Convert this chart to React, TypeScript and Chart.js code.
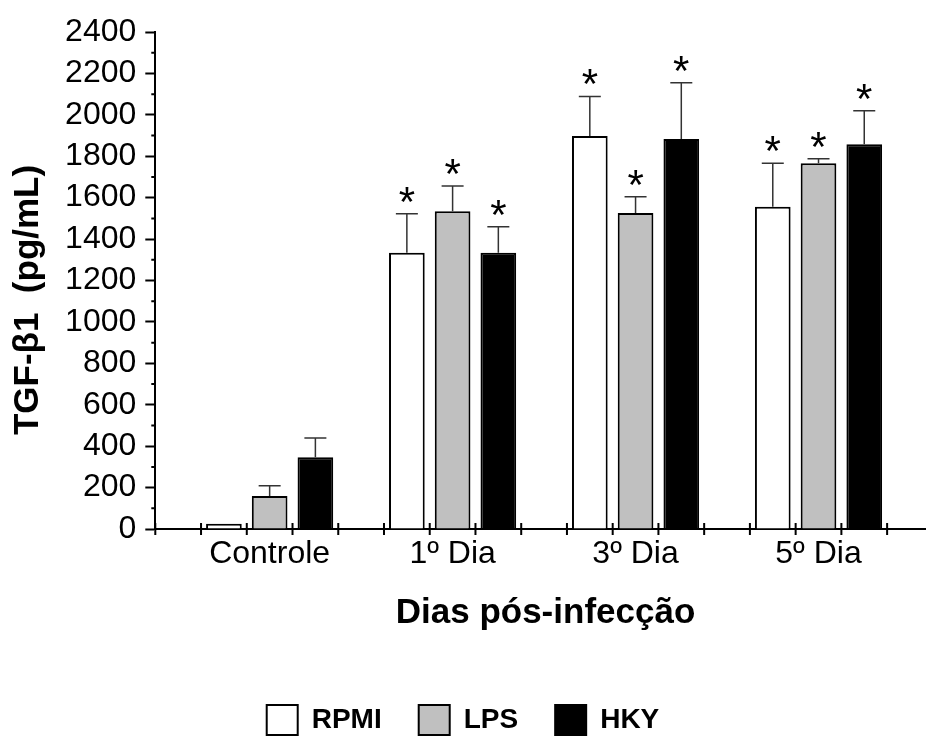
import React, { useEffect, useRef } from 'react';
import { Chart, registerables } from 'chart.js';

Chart.register(...registerables);

// ---- data ----
const categories = ['Controle', '1º Dia', '3º Dia', '5º Dia'];
const seriesNames = ['RPMI', 'LPS', 'HKY'];
const rpmiValues = [25, 1334, 1898, 1556];
const lpsValues = [159, 1535, 1526, 1766];
const hkyValues = [346, 1334, 1883, 1858];
const rpmiErrors = [0, 188, 191, 210];
const lpsErrors = [50, 121, 79, 22];
const hkyErrors = [94, 126, 272, 162];
const rpmiSignificant = [false, true, true, true];
const lpsSignificant = [false, true, true, true];
const hkySignificant = [false, true, true, true];
const yMin = 0;
const yMax = 2400;
const yMajorStep = 200;
const yMinorStep = 100;
const xTitle = ' Dias pós-infecção';
const yTitle = 'TGF-β1  (pg/mL)    ';

const FONT = '"Liberation Sans", Arial, Helvetica, sans-serif';
const fills = ['#ffffff', '#c0c0c0', '#000000'];

// x layout in "slots": each category group spans 4 slots (3 bars + gap)
const SLOTS_PER_GROUP = 4;
const GROUP_OFFSET = 2.5;
const X_MAX = 16.85;

const valueSets = [rpmiValues, lpsValues, hkyValues];
const errorSets = [rpmiErrors, lpsErrors, hkyErrors];
const sigSets = [rpmiSignificant, lpsSignificant, hkySignificant];

const groupX = (i: number) => SLOTS_PER_GROUP * i + GROUP_OFFSET;

const decorPlugin = {
  id: 'decor',
  afterDatasetsDraw(chart: any) {
    const { ctx } = chart;
    const ys = chart.scales.y;
    ctx.save();
    chart.data.datasets.forEach((ds: any, di: number) => {
      const meta = chart.getDatasetMeta(di);
      meta.data.forEach((bar: any, i: number) => {
        const err = errorSets[di][i];
        const v = valueSets[di][i];
        const topPx = ys.getPixelForValue(v);
        const capPx = ys.getPixelForValue(v + err);
        if (err > 0) {
          ctx.strokeStyle = '#333';
          ctx.lineWidth = 1.5;
          ctx.beginPath();
          ctx.moveTo(bar.x, topPx);
          ctx.lineTo(bar.x, capPx);
          ctx.moveTo(bar.x - 11, capPx);
          ctx.lineTo(bar.x + 11, capPx);
          ctx.stroke();
        }
        if (sigSets[di][i]) {
          ctx.fillStyle = '#000';
          ctx.font = `42px ${FONT}`;
          ctx.textAlign = 'center';
          ctx.textBaseline = 'alphabetic';
          ctx.fillText('*', bar.x, capPx + 2);
        }
      });
    });
    ctx.restore();
  },
  afterDraw(chart: any) {
    const { ctx, chartArea } = chart;
    const xs = chart.scales.x;
    const ys = chart.scales.y;
    ctx.save();
    ctx.strokeStyle = '#000';
    ctx.lineWidth = 2;
    ctx.beginPath();
    xs.ticks.forEach((t: any) => {
      if (Number.isInteger(t.value)) {
        const px = xs.getPixelForValue(t.value);
        ctx.moveTo(px, chartArea.bottom - 6);
        ctx.lineTo(px, chartArea.bottom + 6);
      }
    });
    ys.ticks.forEach((t: any) => {
      if (t.value % yMajorStep !== 0) {
        const py = ys.getPixelForValue(t.value);
        ctx.moveTo(chartArea.left - 4, py);
        ctx.lineTo(chartArea.left, py);
      }
    });
    ctx.stroke();
    ctx.restore();
  },
};

export default function App() {
  const ref = useRef<HTMLCanvasElement>(null);

  useEffect(() => {
    const datasets = seriesNames.map((name, di) => ({
      label: name,
      data: valueSets[di].map((v, i) => ({ x: groupX(i), y: v })),
      backgroundColor: fills[di],
      borderColor: '#000',
      borderWidth: 2,
      categoryPercentage: 6,
      barPercentage: 0.78,
    }));

    const chart = new Chart(ref.current as HTMLCanvasElement, {
      type: 'bar',
      data: { datasets },
      plugins: [decorPlugin],
      options: {
        responsive: false,
        animation: false,
        devicePixelRatio: 1,
        layout: { padding: { top: 32, left: 0, right: 0, bottom: 0 } },
        plugins: {
          tooltip: { enabled: false },
          legend: {
            position: 'bottom',
            labels: {
              boxWidth: 31,
              boxHeight: 30,
              padding: 37,
              color: '#000',
              font: { family: FONT, size: 28, weight: 'bold' },
            },
          },
        },
        scales: {
          x: {
            type: 'linear',
            offset: false,
            min: 0,
            max: X_MAX,
            afterBuildTicks: (scale: any) => {
              const vals: number[] = [];
              for (let v = 0; v <= Math.floor(X_MAX); v++) vals.push(v);
              categories.forEach((_, i) => vals.push(groupX(i)));
              vals.sort((a, b) => a - b);
              scale.ticks = vals.map((v) => ({ value: v }));
            },
            afterFit: (scale: any) => {
              scale.height = 139;
            },
            ticks: {
              autoSkip: false,
              maxRotation: 0,
              minRotation: 0,
              padding: 6,
              color: '#000',
              font: { family: FONT, size: 32 },
              callback: (value: any) => {
                const v = Number(value);
                const idx = (v - GROUP_OFFSET) / SLOTS_PER_GROUP;
                return Number.isInteger(idx) && idx >= 0 && idx < categories.length ? categories[idx] : '';
              },
            },
            grid: { display: false, drawTicks: false, tickLength: 0 },
            border: { display: true, color: '#000', width: 2 },
            title: {
              display: true,
              text: xTitle,
              color: '#000',
              font: { family: FONT, size: 35, weight: 'bold' },
              padding: { top: 0, bottom: 34 },
            },
          },
          y: {
            min: yMin,
            max: yMax,
            afterFit: (scale: any) => {
              scale.width = 155.3;
            },
            ticks: {
              stepSize: yMinorStep,
              autoSkip: false,
              padding: 9,
              color: '#000',
              font: { family: FONT, size: 32 },
              callback: (value: any) => (Number(value) % yMajorStep === 0 ? String(value) : ''),
            },
            grid: {
              display: true,
              drawOnChartArea: false,
              drawTicks: true,
              tickLength: 10,
              tickWidth: 2,
              tickColor: (c: any) =>
                c.tick && c.tick.value % yMajorStep === 0 ? '#000' : 'rgba(0,0,0,0)',
            },
            border: { display: true, color: '#000', width: 2 },
            title: {
              display: true,
              text: yTitle,
              color: '#000',
              font: { family: FONT, size: 35, weight: 'bold' },
              padding: { top: 7, bottom: 0 },
            },
          },
        },
      } as any,
    });
    return () => chart.destroy();
  }, []);

  return (
    <div
      style={{
        position: 'fixed',
        left: 0,
        top: 0,
        width: 926,
        height: 738,
        overflow: 'hidden',
        background: '#fff',
      }}
    >
      <canvas ref={ref} width={926} height={745} style={{ display: 'block', width: 926, height: 745 }} />
    </div>
  );
}
